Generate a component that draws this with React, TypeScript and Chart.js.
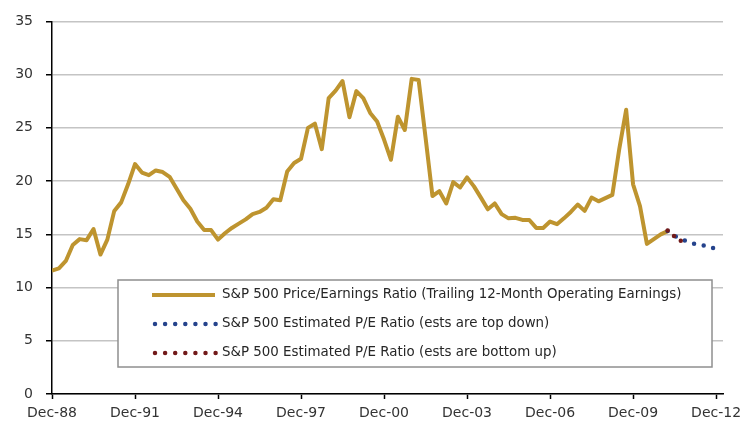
import React, { useEffect, useRef } from 'react';
import { Chart, registerables } from 'chart.js';

Chart.register(...registerables);

// Quarterly categories from Dec-88 (index 0) to Mar-13 (index 97)
const quarterCount = 98;
const tickLabels = ['Dec-88', 'Dec-91', 'Dec-94', 'Dec-97', 'Dec-00', 'Dec-03', 'Dec-06', 'Dec-09', 'Dec-12'];
const tickEvery = 12;
const yTickMax = 35;
const yTickStep = 5;

// S&P 500 P/E (trailing 12-month operating earnings), Dec-88 onward
const peRatio = [
  11.6, 11.8, 12.5, 14.0, 14.55, 14.45, 15.5, 13.1, 14.5, 17.2,
  18.0, 19.7, 21.6, 20.8, 20.55, 21.0, 20.85, 20.4, 19.3, 18.2,
  17.4, 16.2, 15.4, 15.4, 14.5, 15.1, 15.6, 16.0, 16.4, 16.9,
  17.1, 17.5, 18.3, 18.2, 20.9, 21.7, 22.1, 25.0, 25.4, 23.0,
  27.8, 28.5, 29.4, 26.0, 28.45, 27.8, 26.4, 25.6, 23.9, 22.0,
  26.05, 24.8, 29.6, 29.5, 24.1, 18.6, 19.05, 17.9, 19.9, 19.4,
  20.35, 19.5, 18.45, 17.35, 17.9, 16.9, 16.5, 16.55, 16.35, 16.35,
  15.6, 15.6, 16.2, 15.95, 16.5, 17.1, 17.8, 17.2, 18.45, 18.1,
  18.4, 18.7, 23.0, 26.7, 19.7, 17.65, 14.1, 14.55, 15.0, 15.3,
];

const estimateStart = 89;
const topDownEst = [15.3, 14.85, 14.55, 14.3, 14.08, 13.98, 13.88, 13.6];
const bottomUpEst = [15.35, 14.8, 14.35, 14.1];

const seriesNames = [
  'S&P 500 Price/Earnings Ratio (Trailing 12-Month Operating Earnings)',
  'S&P 500 Estimated P/E Ratio (ests are top down)',
  'S&P 500 Estimated P/E Ratio (ests are bottom up)',
];

const GOLD = '#BE942F';
const BLUE = '#25438C';
const RED = '#721A1A';
const FONT = '"DejaVu Sans", sans-serif';

const legendPlugin = {
  id: 'boxLegend',
  afterDatasetsDraw(chart: any) {
    const ctx = chart.ctx as CanvasRenderingContext2D;
    const box = { x: 118, y: 280, w: 594, h: 87 };
    ctx.save();
    ctx.fillStyle = '#ffffff';
    ctx.fillRect(box.x, box.y, box.w, box.h);
    ctx.strokeStyle = '#8f8f8f';
    ctx.lineWidth = 1.5;
    ctx.strokeRect(box.x, box.y, box.w, box.h);
    const rows = [295, 324, 353];
    const colors = [GOLD, BLUE, RED];
    rows.forEach((ry, i) => {
      ctx.beginPath();
      ctx.strokeStyle = colors[i];
      ctx.lineWidth = i === 0 ? 4 : 4.5;
      ctx.lineCap = i === 0 ? 'butt' : 'round';
      ctx.setLineDash(i === 0 ? [] : [0, 10.1]);
      ctx.moveTo(i === 0 ? 152 : 155, ry);
      ctx.lineTo(i === 0 ? 215 : 216, ry);
      ctx.stroke();
      ctx.setLineDash([]);
      ctx.fillStyle = '#262626';
      ctx.font = `13.4px ${FONT}`;
      ctx.textBaseline = 'middle';
      ctx.textAlign = 'left';
      ctx.fillText(seriesNames[i], 222, ry);
    });
    ctx.restore();
  },
};

export default function App() {
  const canvasRef = useRef<HTMLCanvasElement | null>(null);

  useEffect(() => {
    document.body.style.margin = '0';
    const canvas = canvasRef.current;
    if (!canvas) return;

    const goldData = peRatio.map((v, i) => ({ x: i, y: v }));
    const blueData = topDownEst.map((v, i) => ({ x: estimateStart + i, y: v }));
    const redData = bottomUpEst.map((v, i) => ({ x: estimateStart + i, y: v }));

    const chart = new Chart(canvas, {
      type: 'line',
      data: {
        datasets: [
          {
            label: seriesNames[0],
            data: goldData,
            borderColor: GOLD,
            backgroundColor: GOLD,
            borderWidth: 4,
            pointRadius: 0,
            tension: 0,
            borderJoinStyle: 'round',
            order: 3,
          },
          {
            label: seriesNames[1],
            data: blueData,
            borderColor: BLUE,
            backgroundColor: BLUE,
            borderWidth: 4.5,
            borderDash: [0, 9.8],
            borderCapStyle: 'round',
            pointRadius: 0,
            tension: 0,
            order: 2,
          },
          {
            label: seriesNames[2],
            data: redData,
            borderColor: RED,
            backgroundColor: RED,
            borderWidth: 4.5,
            borderDash: [0, 8.3],
            borderCapStyle: 'round',
            pointRadius: 0,
            tension: 0,
            order: 1,
          },
        ],
      },
      options: {
        responsive: true,
        maintainAspectRatio: false,
        animation: false,
        layout: { padding: { top: 19, right: 28, left: 0, bottom: 0 } },
        plugins: {
          legend: { display: false },
          tooltip: { enabled: false },
        },
        scales: {
          x: {
            type: 'linear',
            min: 0,
            max: quarterCount - 1,
            afterBuildTicks: (scale: any) => {
              scale.ticks = tickLabels.map((_, i) => ({ value: i * tickEvery }));
            },
            afterFit: (scale: any) => {
              scale.height = 34;
            },
            grid: {
              drawOnChartArea: false,
              drawTicks: true,
              tickLength: 5,
              tickColor: '#000',
              tickWidth: 1.5,
            },
            border: { color: '#000', width: 1.5 },
            ticks: {
              autoSkip: false,
              maxRotation: 0,
              padding: 6,
              color: '#333',
              font: { family: FONT, size: 14 },
              callback: (value: any) => tickLabels[Math.round(Number(value) / tickEvery)] ?? '',
            },
          },
          y: {
            min: 0,
            max: yTickMax,
            afterFit: (scale: any) => {
              scale.width = 52;
            },
            grid: {
              color: '#c4c4c4',
              lineWidth: 1.5,
              drawTicks: true,
              tickLength: 6,
              tickColor: '#000',
              tickWidth: 1.5,
            },
            border: { color: '#000', width: 1.5 },
            ticks: {
              stepSize: yTickStep,
              padding: 13,
              color: '#333',
              font: { family: FONT, size: 14 },
            },
          },
        },
      },
      plugins: [legendPlugin],
    } as any);

    return () => chart.destroy();
  }, []);

  return (
    <div style={{ position: 'fixed', left: 0, top: 0, width: 751, height: 428, background: '#fff' }}>
      <canvas ref={canvasRef} />
    </div>
  );
}
